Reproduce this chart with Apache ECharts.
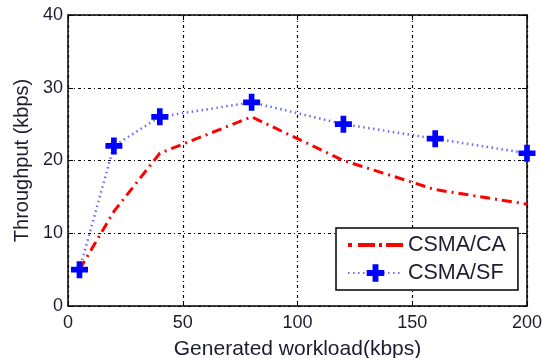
<!DOCTYPE html>
<html><head><meta charset="utf-8">
<script src="https://cdn.jsdelivr.net/npm/echarts@6/dist/echarts.min.js"></script>
<style>html,body{margin:0;padding:0;background:#fff}#c{width:542px;height:358px}</style>
</head><body><div id="c"></div>
<script>
const workload = [5, 20, 40, 80, 120, 160, 200];
const csmaCA = [5, 13, 21, 26, 20, 16, 14];
const csmaSF = [5, 22, 26, 28, 25, 23, 21];
const xTicks = [0, 50, 100, 150, 200];
const yTicks = [0, 10, 20, 30, 40];

const plus = 'path://M-1,-3H1V-1H3V1H1V3H-1V1H-3V-1H-1Z';
const dashDotIcon = 'path://M0,0H4V4H0Z M10,0H27V4H10Z M31,0H34V4H31Z M38,0H55V4H38Z';
const grid = [3, 3, 1, 3];
const font = 'Liberation Sans, Arial, sans-serif';
const txt = '#1c1c30';
const chart = echarts.init(document.getElementById('c'));
const axisCommon = {
  axisLine: {show: true, onZero: false, lineStyle: {color: '#000', width: 1.5}},
  axisTick: {show: true, inside: true, length: 5, lineStyle: {color: '#000'}},
  splitLine: {show: false}
};
chart.setOption({
  animation: false,
  grid: {left: 68, right: 15, top: 15, bottom: 52, containLabel: false, outerBoundsMode: 'none'},
  xAxis: [
    Object.assign({type: 'value', min: xTicks[0], max: xTicks[xTicks.length-1], interval: 50,
      name: 'Generated workload(kbps)', nameLocation: 'middle', nameGap: 33,
      nameTextStyle: {fontFamily: font, fontSize: 21, color: txt},
      axisLabel: {fontFamily: font, fontSize: 18, color: txt, margin: 8},
    }, axisCommon, {splitLine: {show: true, lineStyle: {color: '#000', type: grid, width: 1.2}}}),
    Object.assign({type: 'value', position: 'top', min: 0, max: 200, interval: 50, axisLabel: {show: false}}, axisCommon)
  ],
  yAxis: [
    Object.assign({type: 'value', min: yTicks[0], max: yTicks[yTicks.length-1], interval: 10,
      name: 'Throughput (kbps)', nameLocation: 'middle', nameGap: 35,
      nameTextStyle: {fontFamily: font, fontSize: 20, color: txt},
      axisLabel: {fontFamily: font, fontSize: 18, color: txt, margin: 5},
    }, axisCommon, {splitLine: {show: true, lineStyle: {color: '#000', type: grid, width: 1.2}}}),
    Object.assign({type: 'value', position: 'right', min: 0, max: 40, interval: 10, axisLabel: {show: false}}, axisCommon)
  ],
  legend: {
    left: 336, top: 228, orient: 'vertical',
    backgroundColor: '#fff', borderColor: '#000', borderWidth: 1.5,
    padding: [6, 12, 6, 11], itemGap: 6, itemWidth: 55, itemHeight: 22,
    textStyle: {fontFamily: font, fontSize: 21.5, color: txt},
    data: [{name: 'CSMA/CA', icon: dashDotIcon}, {name: 'CSMA/SF'}]
  },
  series: [
    {name: 'CSMA/CA', type: 'line', data: workload.map((x, i) => [x, csmaCA[i]]),
     symbol: 'none',
     lineStyle: {color: '#ff0000', width: 3, type: [10, 5, 2, 5]}, itemStyle: {color: '#ff0000'}},
    {name: 'CSMA/SF', type: 'line', data: workload.map((x, i) => [x, csmaSF[i]]),
     symbol: plus, symbolSize: 17,
     lineStyle: {color: '#6a6aff', width: 2.5, type: [1.5, 3.5]}, itemStyle: {color: '#0000ff'}, z: 3}
  ]
});
</script></body></html>
